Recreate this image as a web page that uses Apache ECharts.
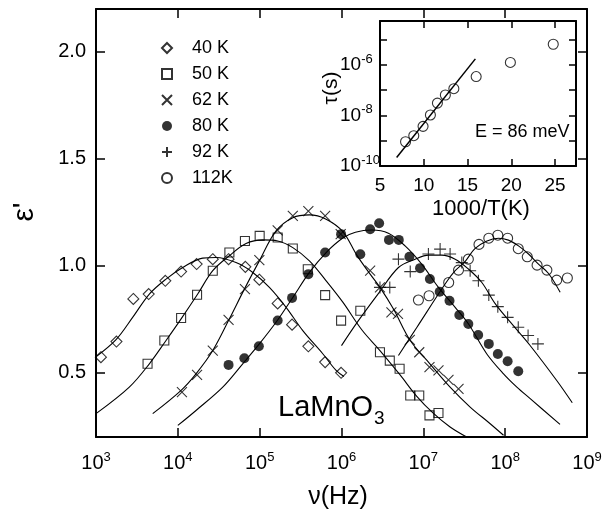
<!DOCTYPE html>
<html>
<head>
<meta charset="utf-8">
<script src="https://cdn.jsdelivr.net/npm/echarts@6/dist/echarts.min.js"></script>
<style>
html,body{margin:0;padding:0;background:#fff;}
#chart{width:605px;height:513px;}
</style>
</head>
<body>
<div id="chart"></div>
<script>
// ---------- Main plot data: x = log10(frequency / Hz), y = epsilon' ----------
const seriesNames = ['40 K', '50 K', '62 K', '80 K', '92 K', '112K'];

const logF40 = [3.06,3.25,3.456,3.644,3.847,4.04,4.23,4.427,4.62,4.825,4.996,5.22,5.396,5.595,5.80,5.995];
const eps40  = [0.573,0.646,0.845,0.868,0.93,0.973,1.008,1.031,1.031,0.995,0.935,0.824,0.725,0.624,0.55,0.50];

const logF50 = [3.63,3.835,4.04,4.235,4.427,4.63,4.82,5.0,5.22,5.405,5.588,5.80,5.995,6.23,6.47,6.59,6.71,6.84,6.95,7.075,7.185];
const eps50  = [0.542,0.651,0.756,0.865,0.977,1.062,1.116,1.14,1.132,1.081,0.984,0.863,0.744,0.79,0.596,0.557,0.519,0.394,0.394,0.301,0.312];

const logF62 = [4.05,4.235,4.427,4.62,4.82,4.996,5.22,5.405,5.595,5.80,5.99,6.35,6.47,6.61,6.69,6.835,6.95,7.075,7.185,7.307,7.43];
const eps62  = [0.41,0.49,0.604,0.747,0.891,1.027,1.166,1.233,1.256,1.233,1.148,0.977,0.899,0.782,0.775,0.654,0.596,0.526,0.511,0.467,0.425];

const logF80 = [4.62,4.813,4.99,5.22,5.396,5.595,5.80,5.995,6.23,6.35,6.46,6.58,6.70,6.83,6.96,7.08,7.20,7.32,7.44,7.55,7.67,7.80,7.91,8.03,8.16];
const eps80  = [0.537,0.568,0.624,0.744,0.85,0.961,1.062,1.148,1.054,1.171,1.199,1.121,1.121,1.042,0.989,0.938,0.879,0.837,0.77,0.728,0.677,0.635,0.588,0.554,0.507];

const logF92 = [6.47,6.59,6.696,6.84,7.062,7.205,7.327,7.47,7.572,7.673,7.80,7.91,8.03,8.16,8.28,8.40];
const eps92  = [0.899,0.899,1.031,0.973,1.055,1.078,1.055,1.015,0.977,0.93,0.863,0.809,0.759,0.713,0.674,0.635];

const logF112 = [6.94,7.07,7.31,7.43,7.55,7.68,7.80,7.91,8.03,8.16,8.27,8.39,8.51,8.63,8.76];
const eps112  = [0.84,0.86,0.922,0.98,1.031,1.10,1.129,1.143,1.129,1.08,1.042,1.003,0.98,0.933,0.943];

// ---------- Fitted curves ----------
const fitF40 = [3.0,3.245,3.45,3.652,3.856,4.06,4.304,4.467,4.711,4.916,5.119,5.323,5.527,5.771,5.934,6.03];
const fitE40 = [0.575,0.655,0.76,0.868,0.938,0.992,1.036,1.039,1.015,0.969,0.899,0.806,0.697,0.589,0.511,0.483];

const fitF50 = [3.0,3.407,3.652,3.856,4.04,4.243,4.427,4.63,4.834,5.038,5.221,5.405,5.608,5.812,6.016,6.25,6.47,6.716,6.92,7.124,7.327,7.53];
const fitE50 = [0.309,0.433,0.542,0.651,0.752,0.868,0.977,1.047,1.104,1.121,1.116,1.085,1.023,0.93,0.83,0.70,0.604,0.49,0.39,0.31,0.247,0.2];

const fitF62 = [3.693,4.04,4.222,4.427,4.63,4.813,4.996,5.2,5.405,5.608,5.812,6.016,6.187,6.35,6.47,6.635,6.84,7.08,7.327,7.572,7.817,7.98];
const fitE62 = [0.309,0.418,0.495,0.604,0.752,0.891,1.023,1.163,1.225,1.238,1.218,1.16,1.05,0.961,0.899,0.798,0.651,0.542,0.433,0.34,0.262,0.208];

const fitF80 = [4.0,4.222,4.549,4.793,4.996,5.2,5.405,5.608,5.812,6.016,6.17,6.37,6.573,6.777,6.98,7.185,7.389,7.552,7.776,7.98,8.143,8.306,8.67];
const fitE80 = [0.254,0.324,0.433,0.542,0.635,0.736,0.852,0.969,1.062,1.13,1.157,1.167,1.152,1.093,1.008,0.899,0.806,0.728,0.588,0.495,0.433,0.379,0.259];

const fitF92 = [6.0,6.2,6.45,6.696,6.9,7.062,7.226,7.389,7.551,7.715,7.88,8.1,8.3,8.63,8.82];
const fitE92 = [0.627,0.74,0.87,0.992,1.031,1.05,1.05,1.031,0.985,0.922,0.822,0.72,0.63,0.464,0.36];

const fitF112 = [6.696,6.92,7.266,7.389,7.51,7.63,7.77,7.918,8.04,8.163,8.285,8.407,8.53,8.672];
const fitE112 = [0.581,0.712,0.915,0.977,1.02,1.08,1.115,1.129,1.12,1.093,1.055,1.008,0.964,0.876];

// ---------- Inset: x = 1000/T (1/K), y = log10(tau / s) ----------
const invT   = [7.92,8.86,9.92,10.76,11.56,12.47,13.44,15.99,19.9,24.8];
const logTau = [-9.04,-8.80,-8.43,-7.98,-7.51,-7.19,-6.94,-6.46,-5.90,-5.18];
const fitInvT   = [6.9,15.9];
const fitLogTau = [-9.66,-5.76];

// ---------- Tick values ----------
const mainXTicks  = [3,4,5,6,7,8,9];
const mainXInner  = [4,5,6,7,8];
const mainYTicks  = [0.5,1.0,1.5,2.0];
const insetXTicks = [5,10,15,20,25];
const insetXInner = [10,15,20,25];
const insetYTicks = [-9,-8,-7,-6,-5];
const insetYLabels = [-10,-8,-6];

const FONT = '"Liberation Sans", Arial, sans-serif';
const zip = (xs, ys) => xs.map((x, i) => [x, ys[i]]);

const crossPath = 'path://M0,0L10,10M10,0L0,10';
const plusPath  = 'path://M5,0L5,10M0,5L10,5';
const hollow = {color: 'rgba(0,0,0,0)', borderColor: '#000', borderWidth: 1.1};

const scatterDefs = [
  {name: seriesNames[0], x: logF40,  y: eps40,  symbol: 'diamond', size: 11, style: hollow},
  {name: seriesNames[1], x: logF50,  y: eps50,  symbol: 'rect', size: 9, style: hollow},
  {name: seriesNames[2], x: logF62,  y: eps62,  symbol: crossPath, size: 10, style: hollow},
  {name: seriesNames[3], x: logF80,  y: eps80,  symbol: 'circle', size: 10, style: {color: '#000'}},
  {name: seriesNames[4], x: logF92,  y: eps92,  symbol: plusPath, size: 12, style: hollow},
  {name: seriesNames[5], x: logF112, y: eps112, symbol: 'circle', size: 10, style: hollow}
];
const fitDefs = [[fitF40,fitE40],[fitF50,fitE50],[fitF62,fitE62],[fitF80,fitE80],[fitF92,fitE92],[fitF112,fitE112]];

const series = [];
fitDefs.forEach(([xs, ys]) => series.push({
  type: 'line', xAxisIndex: 0, yAxisIndex: 0, data: zip(xs, ys),
  symbol: 'none', smooth: 0.35, lineStyle: {color: '#000', width: 1.1}, z: 2, silent: true
}));
scatterDefs.forEach(d => series.push({
  type: 'scatter', name: d.name, xAxisIndex: 0, yAxisIndex: 0, data: zip(d.x, d.y),
  symbol: d.symbol, symbolSize: d.size, itemStyle: d.style, z: 3
}));
series.push({
  type: 'line', xAxisIndex: 2, yAxisIndex: 2, data: zip(fitInvT, fitLogTau),
  symbol: 'none', lineStyle: {color: '#000', width: 1.5}, z: 2
});
series.push({
  type: 'scatter', xAxisIndex: 2, yAxisIndex: 2, data: zip(invT, logTau),
  symbol: 'circle', symbolSize: 10, itemStyle: hollow, z: 3
});

const lineAxis = {lineStyle: {color: '#000', width: 2}};
const supRich = {
  b: {fontSize: 20, fontFamily: FONT, color: '#000'},
  s: {fontSize: 13, fontFamily: FONT, color: '#000', verticalAlign: 'bottom', padding: [0, 0, 12, 0]}
};
const supRichInset = {
  b: {fontSize: 19, fontFamily: FONT, color: '#000'},
  s: {fontSize: 13, fontFamily: FONT, color: '#000', verticalAlign: 'bottom', padding: [0, 0, 12, 0]}
};

const option = {
  animation: false,
  backgroundColor: '#fff',
  grid: [
    {left: 96, right: 18, top: 9, bottom: 76},
    {left: 380, right: 29, top: 21, bottom: 347, show: true, backgroundColor: '#fff', borderWidth: 0}
  ],
  legend: {
    data: seriesNames, orient: 'vertical', left: 156, top: 34,
    itemWidth: 10, itemHeight: 10, itemGap: 8,
    textStyle: {fontSize: 18, fontFamily: FONT, color: '#000', lineHeight: 18, padding: [0, 0, 0, 15]}
  },
  xAxis: [
    {type: 'value', gridIndex: 0, position: 'bottom', min: 3, max: 9, interval: 1,
     axisLine: lineAxis, splitLine: {show: false},
     axisTick: {inside: true, length: 9, lineStyle: {width: 1.5, color: '#000'}, customValues: mainXInner},
     axisLabel: {margin: 14, customValues: mainXTicks, formatter: v => '{b|10}{s|' + v + '}', rich: supRich}},
    {type: 'value', gridIndex: 0, position: 'top', min: 3, max: 9, interval: 1,
     axisLine: lineAxis, splitLine: {show: false}, axisLabel: {show: false},
     axisTick: {inside: true, length: 9, lineStyle: {width: 1.5, color: '#000'}, customValues: mainXInner}},
    {type: 'value', gridIndex: 1, position: 'bottom', min: 5, max: 27.4, interval: 5,
     axisLine: lineAxis, splitLine: {show: false},
     axisTick: {inside: true, length: 7, lineStyle: {width: 1.5, color: '#000'}, customValues: insetXInner},
     axisLabel: {margin: 10, customValues: insetXTicks, fontSize: 19, fontFamily: FONT, color: '#000'}},
    {type: 'value', gridIndex: 1, position: 'top', min: 5, max: 27.4, interval: 5,
     axisLine: lineAxis, splitLine: {show: false}, axisLabel: {show: false},
     axisTick: {inside: true, length: 7, lineStyle: {width: 1.5, color: '#000'}, customValues: insetXInner}}
  ],
  yAxis: [
    {type: 'value', gridIndex: 0, position: 'left', min: 0.2, max: 2.2,
     axisLine: lineAxis, splitLine: {show: false},
     axisTick: {inside: true, length: 9, lineStyle: {width: 1.5, color: '#000'}, customValues: mainYTicks},
     axisLabel: {margin: 10, customValues: mainYTicks, formatter: v => v.toFixed(1), fontSize: 20, fontFamily: FONT, color: '#000'}},
    {type: 'value', gridIndex: 0, position: 'right', min: 0.2, max: 2.2,
     axisLine: lineAxis, splitLine: {show: false}, axisLabel: {show: false},
     axisTick: {inside: true, length: 9, lineStyle: {width: 1.5, color: '#000'}, customValues: mainYTicks}},
    {type: 'value', gridIndex: 1, position: 'left', min: -10, max: -4.26,
     axisLine: lineAxis, splitLine: {show: false},
     axisTick: {inside: true, length: 7, lineStyle: {width: 1.5, color: '#000'}, customValues: insetYTicks},
     axisLabel: {margin: 40, align: 'left', customValues: insetYLabels, formatter: v => '{b|10}{s|' + v + '}', rich: supRichInset}},
    {type: 'value', gridIndex: 1, position: 'right', min: -10, max: -4.26,
     axisLine: lineAxis, splitLine: {show: false}, axisLabel: {show: false},
     axisTick: {inside: true, length: 7, lineStyle: {width: 1.5, color: '#000'}, customValues: insetYTicks}}
  ],
  graphic: [
    {type: 'text', x: 25, y: 212, rotation: Math.PI / 2,
     style: {text: "ε'", font: '30px ' + FONT, fill: '#000', align: 'center', verticalAlign: 'middle'}},
    {type: 'text', x: 338, y: 497,
     style: {text: 'ν(Hz)', font: '25px ' + FONT, fill: '#000', align: 'center', verticalAlign: 'middle'}},
    {type: 'text', x: 331, y: 88, rotation: Math.PI / 2,
     style: {text: 'τ(s)', font: '21px ' + FONT, fill: '#000', align: 'center', verticalAlign: 'middle'}},
    {type: 'text', x: 481, y: 209,
     style: {text: '1000/T(K)', font: '22px ' + FONT, fill: '#000', align: 'center', verticalAlign: 'middle'}},
    {type: 'text', x: 475, y: 132,
     style: {text: 'E = 86 meV', font: '18px ' + FONT, fill: '#000', align: 'left', verticalAlign: 'middle'}},
    {type: 'text', x: 278, y: 408,
     style: {text: 'LaMnO', font: '29px ' + FONT, fill: '#000', align: 'left', verticalAlign: 'middle'}},
    {type: 'text', x: 374, y: 419,
     style: {text: '3', font: '19px ' + FONT, fill: '#000', align: 'left', verticalAlign: 'middle'}}
  ],
  series: series
};

const chart = echarts.init(document.getElementById('chart'), null, {renderer: 'canvas'});
chart.setOption(option);
</script>
</body>
</html>
